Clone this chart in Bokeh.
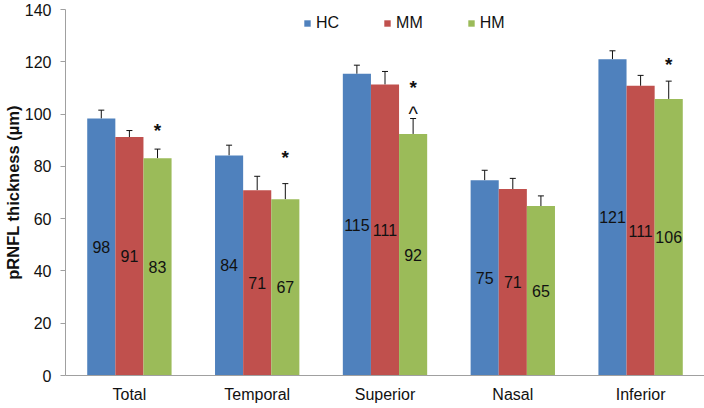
from bokeh.plotting import figure
from bokeh.models import (FactorRange, Range1d, Whisker, TeeHead, ColumnDataSource,
                          Legend, LegendItem, FixedTicker)
from bokeh.transform import dodge
from bokeh.core.properties import value
from bokeh.embed import file_html
from bokeh.resources import INLINE

# ---- data ----
categories = ["Total", "Temporal", "Superior", "Nasal", "Inferior"]
groups = ["HC", "MM", "HM"]
hc = [98.3, 84.2, 115.4, 74.7, 121.0]
mm = [91.2, 70.9, 111.3, 71.3, 110.8]
hm = [83.1, 67.4, 92.4, 64.8, 105.8]
hc_sd = [3.2, 3.9, 3.3, 3.8, 3.2]
mm_sd = [2.5, 5.3, 5.0, 4.1, 4.0]
hm_sd = [3.5, 6.0, 5.9, 3.9, 6.8]
star_cats = ["Total", "Temporal", "Superior", "Inferior"]
star_y = [95.1, 85.0, 111.8, 120.6]
caret_cats = ["Superior"]
caret_y = [101.5]
y_ticks = [0, 20, 40, 60, 80, 100, 120, 140]

colors = ["#4F81BD", "#C0504D", "#9BBB59"]
offsets = [-0.22, 0.0, 0.22]
BAR_W = 0.22
FONT = "Liberation Sans"
FS = "16px"

p = figure(x_range=FactorRange(*categories), y_range=Range1d(0, 140),
           width=704, height=408, output_backend="svg", toolbar_location=None,
           min_border_left=64, min_border_right=0, min_border_top=9, min_border_bottom=33)
p.x_range.range_padding = 0

series = [hc, mm, hm]
sds = [hc_sd, mm_sd, hm_sd]
legend_items = []
for name, vals, sd, col, off in zip(groups, series, sds, colors, offsets):
    src = ColumnDataSource(dict(
        cat=categories,
        val=vals,
        up=[v + s for v, s in zip(vals, sd)],
        mid=[v / 2 for v in vals],
        lab=[str(int(round(v))) for v in vals],
    ))
    xs = dodge("cat", off, range=p.x_range)
    r = p.vbar(x=xs, top="val", width=BAR_W, source=src, fill_color=col, line_color=None)
    legend_items.append(LegendItem(label=name, renderers=[r]))
    w = Whisker(base=dodge("cat", off, range=p.x_range), lower="val", upper="up", source=src,
                line_color="#111111", line_width=1,
                upper_head=TeeHead(size=6, line_color="#111111", line_width=1),
                lower_head=None)
    p.add_layout(w)
    p.text(x=dodge("cat", off, range=p.x_range), y="mid", text="lab", source=src,
           text_align="center", text_baseline="middle", text_font=value(FONT),
           text_font_size=FS, text_color="#111111")

star_src = ColumnDataSource(dict(cat=star_cats, y=star_y, t=["*"] * len(star_cats)))
p.text(x=dodge("cat", offsets[2], range=p.x_range), y="y", text="t", source=star_src,
       text_align="center", text_baseline="middle", text_font=value(FONT),
       text_font_size="19px", text_font_style="bold", text_color="#111111", y_offset=4)
caret_src = ColumnDataSource(dict(cat=caret_cats, y=caret_y, t=["^"] * len(caret_cats)))
p.text(x=dodge("cat", offsets[2], range=p.x_range), y="y", text="t", source=caret_src,
       text_align="center", text_baseline="middle", text_font=value(FONT),
       text_font_size="20px", text_color="#111111", y_offset=4)

legend = Legend(items=legend_items, orientation="horizontal", location=(238, 343),
                glyph_width=8, glyph_height=8, label_text_font_size=FS,
                label_text_font=FONT, label_text_color="#111111", spacing=44, padding=0, margin=0,
                border_line_alpha=0, background_fill_alpha=0, label_standoff=5,
                label_height=16)
p.add_layout(legend)

p.grid.visible = False
p.outline_line_color = None

ya = p.yaxis[0]
ya.ticker = FixedTicker(ticks=y_ticks)
ya.axis_label = "pRNFL thickness (µm)"
ya.axis_label_text_font = FONT
ya.axis_label_text_font_style = "bold"
ya.axis_label_text_font_size = "16.5px"
ya.axis_label_text_color = "#111111"
ya.axis_label_standoff = 0
ya.major_label_text_font = FONT
ya.major_label_text_font_size = FS
ya.major_label_text_color = "#111111"
ya.major_label_standoff = 9
ya.axis_line_color = "#A0A0A0"
ya.major_tick_line_color = "#A0A0A0"
ya.major_tick_out = 5
ya.major_tick_in = 0
ya.minor_tick_out = 0
ya.minor_tick_in = 0

xa = p.xaxis[0]
xa.axis_line_color = "#A0A0A0"
xa.major_tick_line_color = None
xa.minor_tick_line_color = None
xa.major_tick_out = 0
xa.major_tick_in = 0
xa.major_label_text_font = FONT
xa.major_label_text_font_size = FS
xa.major_label_text_color = "#111111"
xa.major_label_standoff = 10

open("out.html", "w").write(file_html(p, INLINE))
